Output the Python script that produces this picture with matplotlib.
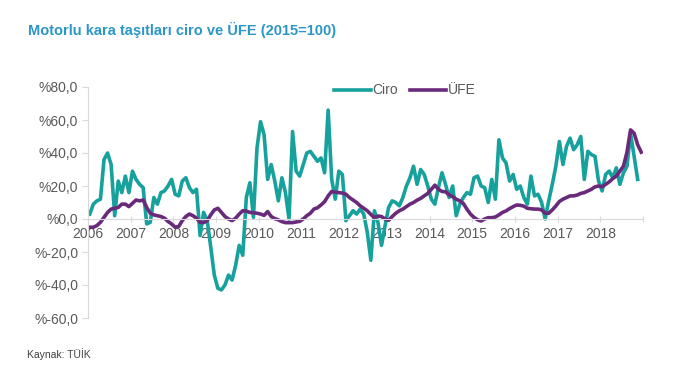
import numpy as np
import matplotlib
matplotlib.use("Agg")
import matplotlib.pyplot as plt

plt.rcParams['font.family'] = ['Liberation Sans', 'DejaVu Sans']

# Monthly values, Jan 2006 onwards (% yoy)
ciro = [
    3, 9, 11, 12, 36, 40, 33, 2, 23, 16, 26, 16,            # 2006
    29, 24, 21, 19, -3, -2, 13, 9, 16, 17, 20, 24,          # 2007
    15, 14, 23, 25, 19, 16, 18, -10, 4, -1, -17, -34,       # 2008
    -42, -43, -40, -34, -37, -28, -16, -22, 13, 22, 1, 43,  # 2009
    59, 51, 24, 33, 23, 11, 25, 16, 0, 53, 29, 26,          # 2010
    33, 40, 41, 38, 35, 37, 28, 66, 24, 12, 29, 27,         # 2011
    -1, 2, 5, 3, 6, 3, -8, -25, 5, -2, -16, -4,             # 2012
    7, 11, 10, 8, 13, 20, 25, 32, 21, 30, 27, 20,           # 2013
    12, 9, 19, 28, 21, 13, 20, 2, 9, 13, 16, 15,            # 2014
    25, 26, 20, 19, 10, 24, 12, 48, 37, 34, 23, 27,         # 2015
    18, 20, 13, 9, 26, 14, 15, 10, 0, 11, 21, 32,           # 2016
    47, 33, 44, 49, 42, 45, 50, 24, 41, 39, 38, 23,         # 2017
    17, 27, 29, 25, 31, 21, 28, 32, 52, 38, 24,             # 2018 (to Nov)
]
ufe = [
    -5, -5, -4, -2, 1, 4, 6, 6.5, 7, 9, 9, 7.5,
    9.5, 11.5, 11, 11.5, 7, 3.5, 2.5, 2, 1.5, 0.5, -1.5, -3,
    -5, -4.5, -1, 1.5, 3, 2, 0.5, -2, -2.2, -1, 2.5, 5.5,
    6.5, 4, 1.5, 0, -1, 0.5, 3, 5, 4.8, 4, 3.8, 3.5,
    3, 2.2, 4.5, 1.5, 0.2, -0.5, -1.6, -2.2, -2.2, -2.2, -1.8, -1.4,
    0, 2, 3.5, 6, 6.8, 8.5, 10.5, 14, 16.7, 16.3, 16, 15.7,
    15, 13, 11.5, 10, 8, 6.5, 5, 2.8, 0.8, 1.8, 1.5, 0,
    -0.8, 1.5, 3.5, 5, 6, 7.5, 9, 10, 11.4, 12.5, 14, 15.5,
    18, 20.5, 18, 16.7, 16.5, 14.7, 13.5, 12, 11, 9.4, 6, 3,
    1, -0.5, -1.2, 0, 0.8, 0.8, 1.2, 2.5, 4, 4.9, 6.3, 7.5,
    8.5, 8.3, 7.8, 6.5, 6.2, 6, 6, 5.5, 3.5, 3.5, 5.5, 7.9,
    10.6, 12, 13, 14, 14, 14.5, 15.5, 16, 17, 18, 19.5, 20,
    19.5, 21, 22.5, 24.5, 26, 29, 32, 40.5, 54, 52, 45, 40.5,
]
years = list(range(2006, 2019))
yticks = [-60, -40, -20, 0, 20, 40, 60, 80]

teal = '#17a19d'
purple = '#6a2a7c'
grey_txt = '#595959'
axis_col = '#d9d9d9'

fig = plt.figure(figsize=(6.79, 3.77), dpi=100)
ax = fig.add_axes([88/679, 59/377, 555/679, 231/377])

x_c = np.arange(len(ciro)) + 0.5
x_u = np.arange(len(ufe)) + 0.5
ax.plot(x_c, ciro, color=teal, lw=2.6, label='Ciro', solid_joinstyle='round')
ax.plot(x_u, ufe, color=purple, lw=2.6, label='ÜFE', solid_joinstyle='round')

ax.set_xlim(0, 156)
ax.set_ylim(-60, 80)

ax.spines['top'].set_visible(False)
ax.spines['right'].set_visible(False)
ax.spines['bottom'].set_position(('data', 0))
ax.spines['bottom'].set_color(axis_col)
ax.spines['left'].set_color(axis_col)

ax.set_xticks([12 * i for i in range(len(years) + 1)])
ax.set_xticklabels([str(y) for y in years] + [''])
ax.set_yticks(yticks)
ax.set_yticklabels(['%' + f'{v:.1f}'.replace('.', ',') for v in yticks])
ax.tick_params(axis='x', direction='inout', length=5, color=axis_col,
               labelsize=10, labelcolor=grey_txt, pad=3)
ax.tick_params(axis='y', direction='out', length=4, color=axis_col,
               labelsize=10, labelcolor=grey_txt, pad=3)

ax.legend(loc='center', bbox_to_anchor=(0.571, 0.985), ncol=2, frameon=False,
          fontsize=10, handlelength=2.6, handletextpad=0.1, columnspacing=0.9,
          labelcolor=grey_txt)

fig.text(28/679, 1 - 30/377, 'Motorlu kara taşıtları ciro ve ÜFE (2015=100)',
         fontsize=10.5, fontweight='bold', color='#2b97c6', va='center')
fig.text(27/679, 1 - 354/377, 'Kaynak: TÜİK', fontsize=7.5, color='#404040',
         va='center')

fig.savefig('out.png', dpi=100)
